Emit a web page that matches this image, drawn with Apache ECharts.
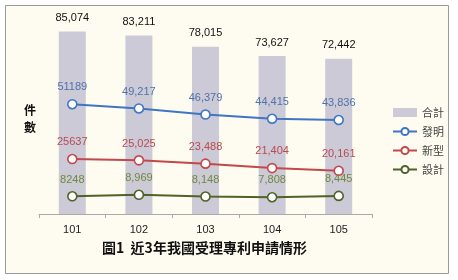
<!DOCTYPE html>
<html><head><meta charset="utf-8">
<script src="https://cdn.jsdelivr.net/npm/echarts@6/dist/echarts.min.js"></script>
<style>html,body{margin:0;padding:0;background:#fff}#c{width:458px;height:280px}</style>
</head><body><div id="c"></div>
<script>
const categories = ['101','102','103','104','105'];
const total = [85074, 83211, 78015, 73627, 72442];
const invention = [51189, 49217, 46379, 44415, 43836];
const utility = [25637, 25025, 23488, 21404, 20161];
const design = [8248, 8969, 8148, 7808, 8445];
const invLabels = ['51189','49,217','46,379','44,415','43,836'];
const utiLabels = ['25637','25,025','23,488','21,404','20,161'];
const desLabels = ['8248','8,969','8,148','7,808','8,445'];

const fnt = '"Liberation Sans", "Noto Sans CJK TC", sans-serif';
const chart = echarts.init(document.getElementById('c'));
function lineSeries(name, data, labels, color, labelColor) {
  return {
    name, type: 'line', data, symbol: 'circle', symbolSize: 9,
    lineStyle: {color, width: 2}, itemStyle: {color: '#fff', borderColor: color, borderWidth: 1.6},
    label: {show: true, position: 'top', distance: 6, color: labelColor, fontSize: 11, fontFamily: fnt,
      formatter: p => labels[p.dataIndex]},
    z: 3
  };
}
chart.setOption({
  backgroundColor: '#fff',
  animation: false,
  textStyle: {fontFamily: fnt},
  graphic: [
    {type: 'rect', shape: {x: 5.5, y: 5.5, width: 443, height: 268}, style: {fill: '#fefcf1', stroke: '#9a9a9a', lineWidth: 1}, z: -10},
    {type: 'text', left: 24, top: 102, style: {text: '件\n數', font: 'bold 12px "Noto Sans CJK TC"', fill: '#111', lineHeight: 17}},
    {type: 'text', left: 102, top: 241, style: {text: '圖1  近3年我國受理專利申請情形', font: 'bold 14px "Noto Sans CJK TC"', fill: '#111'}}
  ],
  grid: {left: 39, right: 86, top: 21, bottom: 66},
  legend: {
    orient: 'vertical', left: 387, top: 102, itemGap: 8, itemWidth: 24, itemHeight: 9,
    textStyle: {fontSize: 11, color: '#444', fontFamily: '"Noto Sans CJK TC"'},
    data: [
      {name: '合計', icon: 'rect', itemStyle: {color: '#cdcad8'}},
      {name: '發明'}, {name: '新型'}, {name: '設計'}
    ]
  },
  xAxis: {
    type: 'category', data: categories,
    axisLine: {lineStyle: {color: '#aaa'}},
    axisTick: {show: true, length: 4, lineStyle: {color: '#aaa'}},
    axisLabel: {color: '#222', fontSize: 11, margin: 10}
  },
  yAxis: {type: 'value', min: 0, max: 90000, show: false, splitLine: {show: false}},
  series: [
    {name: '合計', type: 'bar', data: total, barWidth: 27, itemStyle: {color: '#cdcad8'},
      label: {show: true, position: 'top', distance: 8, color: '#111', fontSize: 11,
        formatter: p => p.value.toLocaleString('en-US')}, z: 1},
    lineSeries('發明', invention, invLabels, '#3f75c2', '#4f72a8'),
    lineSeries('新型', utility, utiLabels, '#c3484a', '#b84a4c'),
    lineSeries('設計', design, desLabels, '#4f6228', '#6e8a3c')
  ]
});
</script></body></html>
